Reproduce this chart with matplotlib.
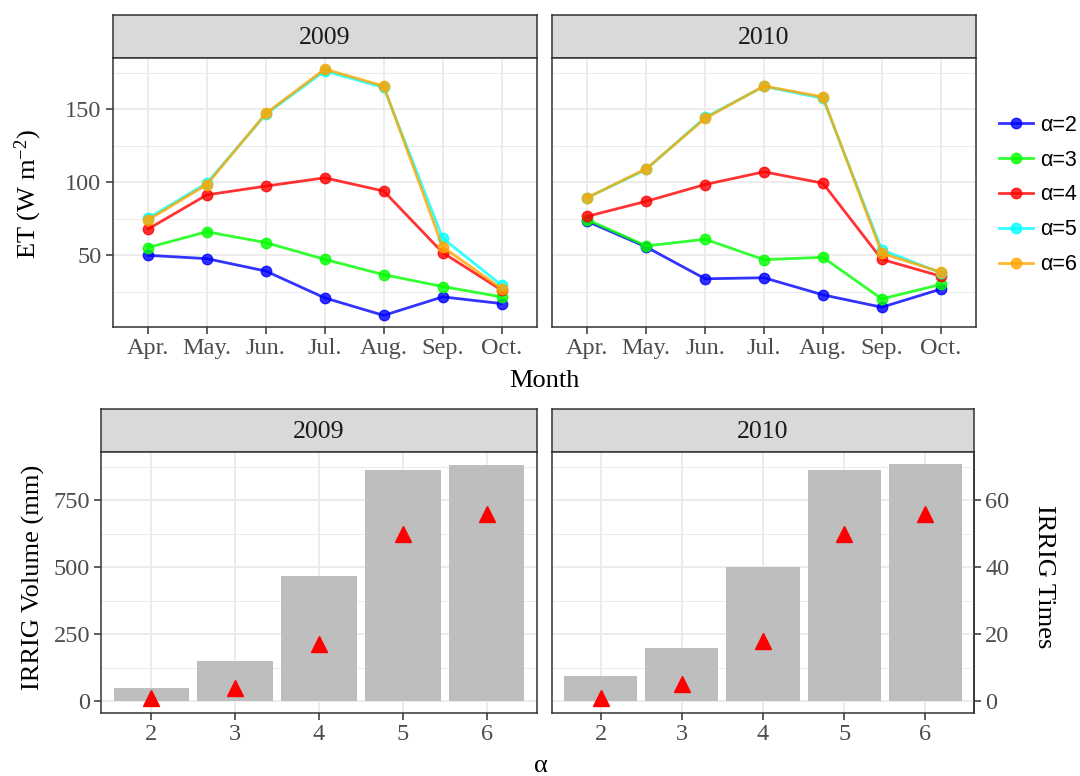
import matplotlib
matplotlib.use("Agg")
import matplotlib.pyplot as plt
import numpy as np
from matplotlib.lines import Line2D

# ---- data -------------------------------------------------------------
MONTHS = ["Apr.", "May.", "Jun.", "Jul.", "Aug.", "Sep.", "Oct."]
YEARS = ["2009", "2010"]
ALPHAS = [2, 3, 4, 5, 6]

et_2009 = {
    2: [50.0, 47.7, 39.2, 20.8, 8.8, 21.5, 16.9],
    3: [55.3, 66.1, 58.7, 47.2, 36.7, 28.6, 21.5],
    4: [67.9, 91.4, 97.4, 103.1, 94.0, 51.8, 26.1],
    5: [75.3, 99.4, 146.6, 176.4, 165.0, 61.7, 29.5],
    6: [74.1, 98.5, 147.2, 177.6, 166.0, 55.7, 27.2],
}
et_2010 = {
    2: [73.2, 55.7, 33.9, 34.6, 22.9, 14.4, 26.8],
    3: [74.4, 56.4, 61.0, 47.0, 48.6, 20.1, 30.0],
    4: [76.7, 87.0, 98.5, 107.2, 99.4, 47.2, 35.7],
    5: [89.5, 108.8, 144.5, 165.7, 157.6, 53.7, 38.0],
    6: [89.5, 109.3, 143.8, 166.0, 158.5, 51.4, 38.5],
}
irrig_volume_2009 = [49, 151, 467, 863, 883]
irrig_volume_2010 = [94, 197, 503, 864, 887]
irrig_times_2009 = [1, 4, 17, 50, 56]
irrig_times_2010 = [1, 5, 18, 50, 56]

SEC_RATIO = 12.5  # mm per irrigation event on the secondary axis

# ---- style ------------------------------------------------------------
COLORS = {2: "#0000FF", 3: "#00FF00", 4: "#FF0000", 5: "#00FFFF", 6: "#FFA500"}
SERIF = "Liberation Serif"
SANS = "Liberation Sans"
TICK_C = "#4D4D4D"
BORDER_C = "#333333"
GRID_C = "#EBEBEB"
STRIP_C = "#D9D9D9"
TICK_FS = 17.5
TITLE_FS = 19
STRIP_FS = 18.5

plt.rcParams["mathtext.fontset"] = "custom"
plt.rcParams["mathtext.rm"] = SERIF
plt.rcParams["mathtext.it"] = SERIF + ":italic"

W, H = 1080, 776
fig = plt.figure(figsize=(W / 100, H / 100), dpi=100)


def px_axes(x0, y0, x1, y1):
    return fig.add_axes([x0 / W, 1 - y1 / H, (x1 - x0) / W, (y1 - y0) / H])


def fig_text(x, y, s, **kw):
    fig.text(x / W, 1 - y / H, s, ha="center", va="center", family=SERIF,
             fontsize=TITLE_FS, color="black", **kw)


def strip(x0, x1, y0, y1, label):
    s = px_axes(x0, y0, x1, y1)
    s.set_facecolor(STRIP_C)
    s.set_xticks([])
    s.set_yticks([])
    for sp in s.spines.values():
        sp.set_color(BORDER_C)
        sp.set_linewidth(1.1)
    s.text(0.5, 0.47, label, ha="center", va="center", fontsize=STRIP_FS,
           family=SERIF, color="#1A1A1A", transform=s.transAxes)


def style_axis(ax, show_y=True):
    ax.set_facecolor("white")
    for sp in ax.spines.values():
        sp.set_color(BORDER_C)
        sp.set_linewidth(1.1)
    ax.grid(True, which="major", color=GRID_C, lw=1.3, zorder=0)
    ax.grid(True, which="minor", axis="y", color=GRID_C, lw=0.7, zorder=0)
    ax.set_axisbelow(True)
    ax.tick_params(axis="both", which="major", colors=BORDER_C, labelcolor=TICK_C,
                   labelsize=TICK_FS, length=5, width=1.1, pad=3)
    ax.tick_params(axis="y", which="minor", length=0)
    if not show_y:
        ax.tick_params(axis="y", which="major", length=0, labelleft=False)
    for lab in ax.get_xticklabels() + ax.get_yticklabels():
        lab.set_family(SERIF)


# ---- top row: ET lines -----------------------------------------------
top_pos = [(112.5, 537), (552, 976)]
x = np.arange(len(MONTHS))
for i, (year, data) in enumerate(zip(YEARS, [et_2009, et_2010])):
    x0, x1 = top_pos[i]
    strip(x0, x1, 15, 58, year)
    ax = px_axes(x0, 58, x1, 326.5)
    for a in ALPHAS:
        ax.plot(x, data[a], color=COLORS[a], lw=2, alpha=0.8, marker="o",
                markersize=7.5, zorder=3, label=f"α={a}")
    ax.set_xlim(-0.6, len(MONTHS) - 0.4)
    ax.set_ylim(1.2, 185.2)
    ax.set_yticks([50, 100, 150])
    ax.set_yticks([25, 75, 125, 175], minor=True)
    ax.set_xticks(x)
    ax.set_xticklabels(MONTHS)
    style_axis(ax, show_y=(i == 0))

fig_text(28, 194, "ET (W m$^{-2}$)", rotation=90)
fig_text(544, 381, "Month")

handles = [Line2D([0], [0], color=COLORS[a], lw=2, alpha=0.8, marker="o",
                  markersize=7.5, label=f"α={a}") for a in ALPHAS]
fig.legend(handles=handles, loc="center left", bbox_to_anchor=(990 / W, 1 - 195 / H),
           frameon=False, prop={"family": SANS, "size": 15.5}, labelspacing=0.64,
           handlelength=1.6, handletextpad=0.35, borderaxespad=0)

# ---- bottom row: irrigation bars + times -----------------------------
bot_pos = [(101, 537), (552, 974)]
bx = np.arange(len(ALPHAS))
vols = [irrig_volume_2009, irrig_volume_2010]
times = [irrig_times_2009, irrig_times_2010]
for i, year in enumerate(YEARS):
    x0, x1 = bot_pos[i]
    strip(x0, x1, 409, 452, year)
    ax = px_axes(x0, 452, x1, 713)
    ax.bar(bx, vols[i], width=0.9, color="#BEBEBE", zorder=2)
    ax.plot(bx, np.array(times[i]) * SEC_RATIO, linestyle="none", marker="^",
            markersize=11, color="#FF0000", zorder=3)
    ax.set_xlim(-0.6, len(ALPHAS) - 0.4)
    ax.set_ylim(-44, 931)
    ax.set_yticks([0, 250, 500, 750])
    ax.set_yticks([125, 375, 625, 875], minor=True)
    ax.set_xticks(bx)
    ax.set_xticklabels([str(a) for a in ALPHAS])
    style_axis(ax, show_y=(i == 0))
    if i == 1:
        sec = ax.secondary_yaxis("right", functions=(lambda v: v / SEC_RATIO,
                                                      lambda v: v * SEC_RATIO))
        sec.set_yticks([0, 20, 40, 60])
        sec.tick_params(colors=BORDER_C, labelcolor=TICK_C, labelsize=TICK_FS,
                        length=5, width=1.1, pad=3)
        sec.spines["right"].set_color(BORDER_C)
        sec.spines["right"].set_linewidth(1.1)
        for lab in sec.get_yticklabels():
            lab.set_family(SERIF)

fig_text(33, 577, "IRRIG Volume (mm)", rotation=90)
fig_text(1044, 577, "IRRIG Times", rotation=270)
fig_text(541, 766, "α")

fig.savefig("out.png", dpi=100, facecolor="white")
